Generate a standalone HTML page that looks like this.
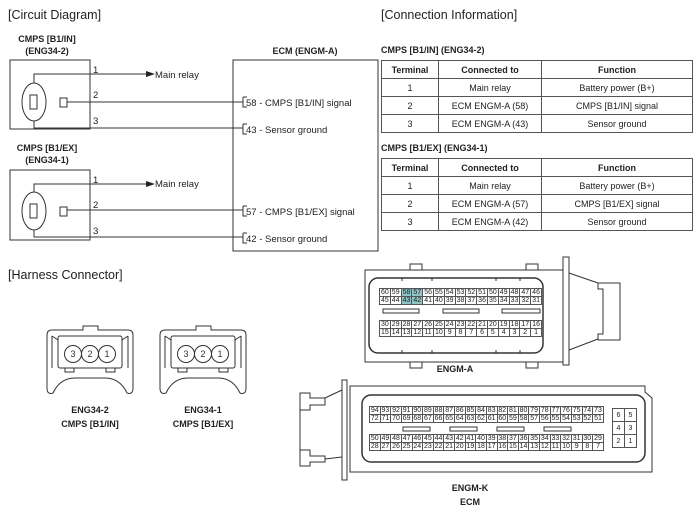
<!DOCTYPE html>
<html><head><meta charset="utf-8"><style>
body{margin:0;background:#fff;width:700px;height:513px;overflow:hidden;position:relative;font-family:"Liberation Sans",sans-serif;color:#222}
svg{position:absolute;left:0;top:0}
table.g{position:absolute;border-collapse:collapse;font-size:7px;text-align:center;table-layout:fixed}
table.g td{border:1px solid #555;padding:0;height:7px;line-height:7px;overflow:hidden}
td.h{background:#8fc3c6}
table.t{position:absolute;border-collapse:collapse;font-size:9px;text-align:center;table-layout:fixed}
table.t td{border:1px solid #555;padding:0;height:17px}
table.t tr:first-child td{font-weight:bold}
</style></head><body>
<svg width="700" height="513" viewBox="0 0 700 513" font-family="Liberation Sans, sans-serif" fill="none" stroke="#333" stroke-width="1">
<g fill="#222" stroke="none">
<text x="8" y="19" font-size="12.5">[Circuit Diagram]</text>
<text x="381" y="19" font-size="12.5">[Connection Information]</text>
<text x="8" y="279" font-size="12.5">[Harness Connector]</text>
<g font-size="9" font-weight="bold" text-anchor="middle">
<text x="47" y="42">CMPS [B1/IN]</text><text x="47" y="54">(ENG34-2)</text>
<text x="47" y="151">CMPS [B1/EX]</text><text x="47" y="163">(ENG34-1)</text>
<text x="305" y="54">ECM (ENGM-A)</text>
<text x="90" y="413">ENG34-2</text><text x="90" y="427">CMPS [B1/IN]</text>
<text x="203" y="413">ENG34-1</text><text x="203" y="427">CMPS [B1/EX]</text>
<text x="455" y="372">ENGM-A</text>
<text x="470" y="491">ENGM-K</text><text x="470" y="505">ECM</text>
</g>
<text x="381" y="53" font-size="9" font-weight="bold">CMPS [B1/IN] (ENG34-2)</text>
<text x="381" y="151" font-size="9" font-weight="bold">CMPS [B1/EX] (ENG34-1)</text>
<g font-size="9.5">
<text x="93" y="73">1</text><text x="93" y="98">2</text><text x="93" y="124">3</text>
<text x="93" y="183">1</text><text x="93" y="208">2</text><text x="93" y="234">3</text>
<text x="155" y="78">Main relay</text><text x="155" y="187">Main relay</text>
<text x="246" y="106">58 - CMPS [B1/IN] signal</text>
<text x="246" y="133">43 - Sensor ground</text>
<text x="246" y="215">57 - CMPS [B1/EX] signal</text>
<text x="246" y="242">42 - Sensor ground</text>
</g>
<path d="M155,74 l-9,-3 v6z M155,184 l-9,-3 v6z" fill="#222"/>
</g>
<rect x="10" y="60" width="80" height="69"/>
<rect x="10" y="170" width="80" height="70"/>
<rect x="233" y="60" width="145" height="191"/>
<ellipse cx="34" cy="102" rx="12" ry="19"/><rect x="30" y="95" width="7" height="14"/><rect x="60" y="98" width="7" height="9"/>
<ellipse cx="34" cy="211" rx="12" ry="19"/><rect x="30" y="204" width="7" height="14"/><rect x="60" y="207" width="7" height="9"/>
<path d="M34,83 V74 H147 M67,102 H243 M34,121 V128 H243 M243,97 h4 M243,97 V107 h4 M243,124 h4 M243,124 V134 h4"/>
<path d="M34,192 V184 H147 M67,210 H243 M34,230 V237 H243 M243,206 h4 M243,206 V216 h4 M243,233 h4 M243,233 V243 h4"/>
<g id="hc">
<path d="M52,330 L83,330 L83,326 L98,326 L98,330 L128,330 Q133,330 133,335 L133,388 Q133,395 127,393 Q120,378 105,378 L75,378 Q60,378 53,393 Q47,395 47,388 L47,335 Q47,330 52,330 Z"/>
<path d="M52,336 L58,340 M128,336 L122,340 M52,336 V368 M128,336 V368"/>
<rect x="58" y="336" width="64" height="32" rx="2"/>
<rect x="65" y="368" width="9" height="4"/><rect x="106" y="368" width="9" height="4"/>
<circle cx="73" cy="354" r="8.5"/><circle cx="90" cy="354" r="8.5"/><circle cx="107" cy="354" r="8.5"/>
<g fill="#333" stroke="none" font-size="9" text-anchor="middle"><text x="73" y="357">3</text><text x="90" y="357">2</text><text x="107" y="357">1</text></g>
</g>
<use href="#hc" x="113"/>
<rect x="365" y="270" width="198" height="92"/>
<rect x="369" y="278" width="174" height="75" rx="9" stroke-width="1.5"/>
<path d="M410,270 v-6 h12 v6 M526,270 v-6 h12 v6 M410,362 v6 h12 v-6 M526,362 v6 h12 v-6"/>
<path d="M402,278 v3 M432,278 v3 M496,278 v3 M520,278 v3 M402,353 v-3 M432,353 v-3 M496,353 v-3 M520,353 v-3"/>
<rect x="563" y="257" width="6" height="108"/>
<path d="M569,273 L598,283 M569,350 L598,339 M598,283 h22 v57 h-22 M598,283 v6 h5 v45 h-5 v6"/>
<rect x="383" y="309" width="36" height="4"/><rect x="443" y="309" width="36" height="4"/><rect x="502" y="309" width="38" height="4"/>
<path d="M350,386 H645 L645,392 L652,398 V472 H350 Z"/>
<rect x="362" y="395" width="283" height="67" rx="9" stroke-width="1.5"/>
<rect x="342" y="380" width="5" height="100"/>
<path d="M342,390 L325,398 M342,457 L325,459 M300,393 h10 v5 h15 v7 h-15 v5 h-10 z M300,450 h10 v6 h15 v6 h-15 v4 h-10 z M300,400 V450"/>
<rect x="403" y="427" width="27" height="4"/><rect x="450" y="427" width="27" height="4"/><rect x="497" y="427" width="27" height="4"/><rect x="544" y="427" width="27" height="4"/>
</svg>

<table class="g" style="left:379px;top:288px;width:163px">
<tr><td>60</td><td>59</td><td class="h">58</td><td class="h">57</td><td>56</td><td>55</td><td>54</td><td>53</td><td>52</td><td>51</td><td>50</td><td>49</td><td>48</td><td>47</td><td>46</td></tr>
<tr><td>45</td><td>44</td><td class="h">43</td><td class="h">42</td><td>41</td><td>40</td><td>39</td><td>38</td><td>37</td><td>36</td><td>35</td><td>34</td><td>33</td><td>32</td><td>31</td></tr>
</table>
<table class="g" style="left:379px;top:320px;width:163px">
<tr><td>30</td><td>29</td><td>28</td><td>27</td><td>26</td><td>25</td><td>24</td><td>23</td><td>22</td><td>21</td><td>20</td><td>19</td><td>18</td><td>17</td><td>16</td></tr>
<tr><td>15</td><td>14</td><td>13</td><td>12</td><td>11</td><td>10</td><td>9</td><td>8</td><td>7</td><td>6</td><td>5</td><td>4</td><td>3</td><td>2</td><td>1</td></tr>
</table>
<table class="g" style="left:369px;top:406px;width:235px">
<tr><td>94</td><td>93</td><td>92</td><td>91</td><td>90</td><td>89</td><td>88</td><td>87</td><td>86</td><td>85</td><td>84</td><td>83</td><td>82</td><td>81</td><td>80</td><td>79</td><td>78</td><td>77</td><td>76</td><td>75</td><td>74</td><td>73</td></tr>
<tr><td>72</td><td>71</td><td>70</td><td>69</td><td>68</td><td>67</td><td>66</td><td>65</td><td>64</td><td>63</td><td>62</td><td>61</td><td>60</td><td>59</td><td>58</td><td>57</td><td>56</td><td>55</td><td>54</td><td>53</td><td>52</td><td>51</td></tr>
</table>
<table class="g" style="left:369px;top:434px;width:235px">
<tr><td>50</td><td>49</td><td>48</td><td>47</td><td>46</td><td>45</td><td>44</td><td>43</td><td>42</td><td>41</td><td>40</td><td>39</td><td>38</td><td>37</td><td>36</td><td>35</td><td>34</td><td>33</td><td>32</td><td>31</td><td>30</td><td>29</td></tr>
<tr><td>28</td><td>27</td><td>26</td><td>25</td><td>24</td><td>23</td><td>22</td><td>21</td><td>20</td><td>19</td><td>18</td><td>17</td><td>16</td><td>15</td><td>14</td><td>13</td><td>12</td><td>11</td><td>10</td><td>9</td><td>8</td><td>7</td></tr>
</table>
<table class="g" style="left:612px;top:408px;width:25px">
<tr><td style="height:12px">6</td><td>5</td></tr><tr><td style="height:12px">4</td><td>3</td></tr><tr><td style="height:12px">2</td><td>1</td></tr>
</table>

<table class="t" style="left:381px;top:60px;width:311px">
<col style="width:57px"><col style="width:103px"><col style="width:151px">
<tr><td>Terminal</td><td>Connected to</td><td>Function</td></tr>
<tr><td>1</td><td>Main relay</td><td>Battery power (B+)</td></tr>
<tr><td>2</td><td>ECM ENGM-A (58)</td><td>CMPS [B1/IN] signal</td></tr>
<tr><td>3</td><td>ECM ENGM-A (43)</td><td>Sensor ground</td></tr>
</table>
<table class="t" style="left:381px;top:158px;width:311px">
<col style="width:57px"><col style="width:103px"><col style="width:151px">
<tr><td>Terminal</td><td>Connected to</td><td>Function</td></tr>
<tr><td>1</td><td>Main relay</td><td>Battery power (B+)</td></tr>
<tr><td>2</td><td>ECM ENGM-A (57)</td><td>CMPS [B1/EX] signal</td></tr>
<tr><td>3</td><td>ECM ENGM-A (42)</td><td>Sensor ground</td></tr>
</table>
</body></html>
